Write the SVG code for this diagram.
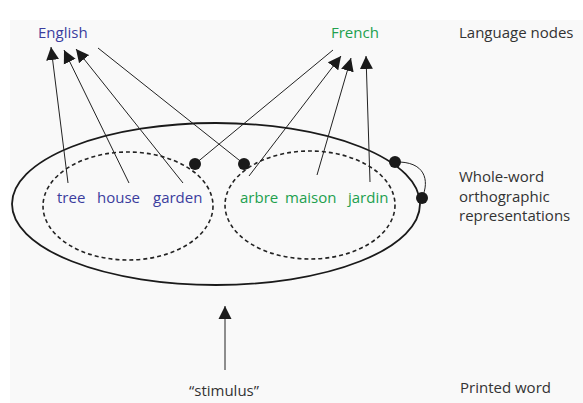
<svg xmlns="http://www.w3.org/2000/svg" width="583" height="403" viewBox="0 0 583 403">
<style>
text{font-family:"Open Sans","Noto Sans","Liberation Sans",sans-serif;font-size:15px}
.en{fill:#3b3d9e}
.fr{fill:#21a04e}
.lb{fill:#333}
.ln{stroke:#222;stroke-width:1;fill:none}
.dash{stroke:#222;stroke-width:1.6;fill:none;stroke-dasharray:4 3}
.dot{fill:#1a1a1a}
</style>
<defs>
<marker id="ah" markerUnits="userSpaceOnUse" markerWidth="14" markerHeight="14" viewBox="0 0 14 14" refX="13" refY="7" orient="auto">
<path d="M0,0.5 L13,7 L0,13.5 Z" fill="#1a1a1a"/>
</marker>
</defs>
<rect x="0" y="0" width="583" height="403" fill="#ffffff"/>
<rect x="10" y="20" width="573" height="383" fill="#f9f9f9"/>
<g id="outer-ellipse"><ellipse cx="216" cy="204" rx="204" ry="81" stroke="#1a1a1a" stroke-width="1.8" fill="none"/></g>
<g id="english-set"><ellipse class="dash" cx="128" cy="206" rx="85" ry="54"/></g>
<g id="french-set"><ellipse class="dash" cx="310" cy="205" rx="85" ry="54"/></g>
<g id="node-english"><text class="en" x="38" y="38">English</text></g>
<g id="node-french"><text class="fr" x="331" y="38">French</text></g>
<g id="label-language"><text class="lb" x="459" y="38">Language nodes</text></g>
<g id="label-whole"><text class="lb" x="459" y="182">Whole-word</text><text class="lb" x="459" y="202">orthographic</text><text class="lb" x="459" y="221">representations</text></g>
<g id="label-printed"><text class="lb" x="460" y="393">Printed word</text></g>
<g id="node-stimulus"><text class="lb" x="189" y="396">“stimulus”</text></g>
<g id="word-tree"><text class="en" x="57" y="203">tree</text></g>
<g id="word-house"><text class="en" x="97" y="203">house</text></g>
<g id="word-garden"><text class="en" x="153" y="203">garden</text></g>
<g id="word-arbre"><text class="fr" x="240" y="203">arbre</text></g>
<g id="word-maison"><text class="fr" x="285" y="203">maison</text></g>
<g id="word-jardin"><text class="fr" x="348" y="203">jardin</text></g>
<g id="connectors">
<line class="ln" x1="68" y1="183" x2="51" y2="47" marker-end="url(#ah)"/>
<line class="ln" x1="129" y1="183" x2="64" y2="50" marker-end="url(#ah)"/>
<line class="ln" x1="183" y1="183" x2="76" y2="49" marker-end="url(#ah)"/>
<line class="ln" x1="249" y1="176" x2="341" y2="56" marker-end="url(#ah)"/>
<line class="ln" x1="317" y1="175" x2="351" y2="58" marker-end="url(#ah)"/>
<line class="ln" x1="370" y1="182" x2="366" y2="56" marker-end="url(#ah)"/>
<line class="ln" x1="98" y1="48" x2="244" y2="164"/>
<line class="ln" x1="333" y1="50" x2="195" y2="164"/>
<path class="ln" d="M395,162 C425,161 430,180 422,198"/>
<line class="ln" x1="225" y1="370" x2="225" y2="306" stroke-width="1.5" marker-end="url(#ah)"/>
<circle class="dot" cx="195" cy="164" r="6"/>
<circle class="dot" cx="244" cy="164" r="6"/>
<circle class="dot" cx="395" cy="162" r="6"/>
<circle class="dot" cx="422" cy="198" r="6"/>
</g>
</svg>
